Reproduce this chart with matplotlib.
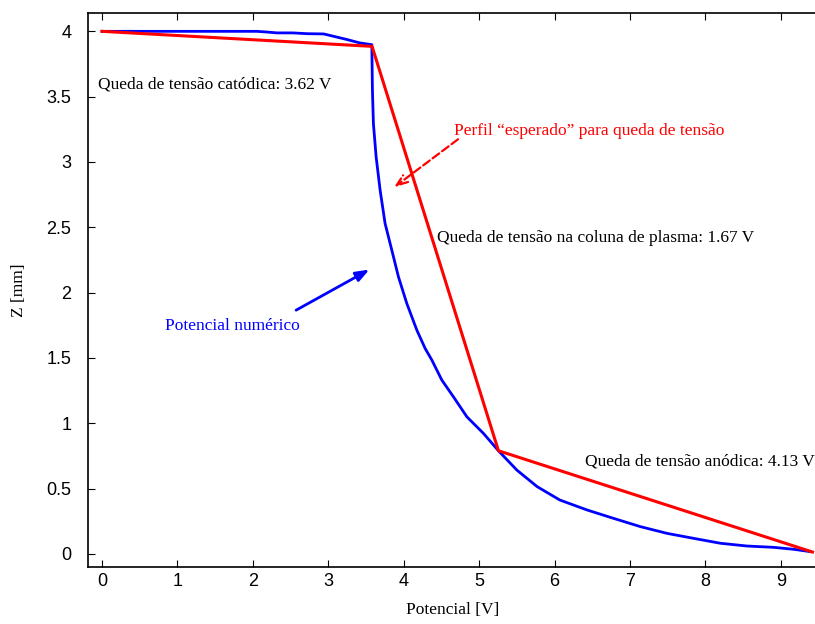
import matplotlib.pyplot as plt
import numpy as np

# numerical potential profile
pot_num = [0.00, 2.05, 2.18, 2.32, 2.53, 2.72, 2.94, 3.07, 3.25, 3.42, 3.577,
           3.585, 3.598, 3.634, 3.687, 3.753, 3.842, 3.930, 4.041, 4.174,
           4.284, 4.373, 4.505, 4.659, 4.837, 5.057, 5.256, 5.50, 5.77, 6.07,
           6.43, 6.78, 7.14, 7.49, 7.84, 8.20, 8.55, 8.90, 9.17, 9.39]
z_num = [4.000, 4.000, 3.995, 3.988, 3.988, 3.982, 3.980, 3.962, 3.937, 3.911,
         3.898, 3.550, 3.294, 3.039, 2.784, 2.529, 2.325, 2.121, 1.917, 1.713,
         1.573, 1.484, 1.331, 1.203, 1.050, 0.923, 0.790, 0.642, 0.515, 0.413,
         0.337, 0.273, 0.209, 0.158, 0.120, 0.082, 0.061, 0.051, 0.036, 0.018]

# "expected" piecewise profile
pot_exp = [0.0, 3.58, 5.256, 9.42]
z_exp = [4.0, 3.885, 0.790, 0.015]

fig = plt.figure(figsize=(8.15, 6.24), dpi=100)
ax = fig.add_axes([0.108, 0.0921, 0.8945, 0.887])

ax.plot(pot_num, z_num, color='#0000ff', lw=2)
ax.plot(pot_exp, z_exp, color='#ff0000', lw=2.2)

ax.set_xlim(-0.186, 9.48)
ax.set_ylim(-0.096, 4.14)
ax.set_xticks(np.arange(0, 10, 1))
ax.set_yticks(np.arange(0, 4.5, 0.5))
ax.set_yticklabels(['0', '0.5', '1', '1.5', '2', '2.5', '3', '3.5', '4'])
ax.tick_params(direction='in', length=5, width=0.8, top=True, right=False,
               labelsize=13)
ax.tick_params(axis='x', pad=5)
ax.tick_params(axis='y', pad=12)
for lab in ax.get_xticklabels() + ax.get_yticklabels():
    lab.set_family('Liberation Sans')
for s in ax.spines.values():
    s.set_linewidth(1.2)

serif = 'Liberation Serif'
ax.set_xlabel('Potencial [V]', family=serif, fontsize=12.5, labelpad=8)
ax.set_ylabel('Z [mm]', family=serif, fontsize=12.5, labelpad=14)

fs = 12.5
ax.text(-0.05, 3.59, 'Queda de tensão catódica: 3.62 V', family=serif,
        fontsize=fs, va='center')
ax.text(4.67, 3.235, 'Perfil \u201cesperado\u201d para queda de tensão',
        family=serif, fontsize=fs, va='center', color='#ff0000')
ax.text(4.44, 2.417, 'Queda de tensão na coluna de plasma: 1.67 V',
        family=serif, fontsize=fs, va='center')
ax.text(6.41, 0.711, 'Queda de tensão anódica: 4.13 V', family=serif,
        fontsize=fs, va='center')
ax.text(0.836, 1.744, 'Potencial numérico', family=serif, fontsize=fs,
        va='center', color='#0000ff')

ax.annotate('', xy=(3.545, 2.177), xytext=(2.573, 1.866),
            arrowprops=dict(arrowstyle='-|>,head_length=0.8,head_width=0.3',
                            color='#0000ff', lw=2, shrinkA=0, shrinkB=0))
ax.annotate('', xy=(3.873, 2.807), xytext=(4.72, 3.174),
            arrowprops=dict(arrowstyle='->,head_length=0.8,head_width=0.3',
                            color='#ff0000', lw=1.6, ls='--',
                            shrinkA=0, shrinkB=0))

fig.savefig('out.png', dpi=100)
